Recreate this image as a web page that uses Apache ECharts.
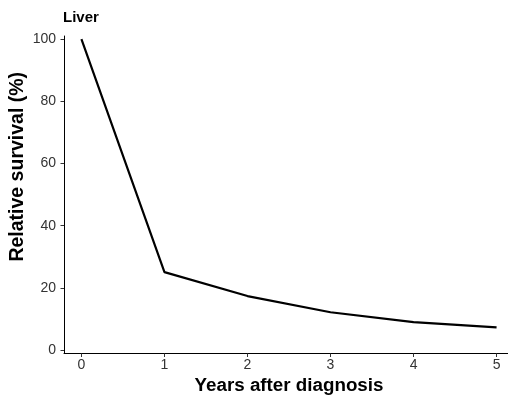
<!DOCTYPE html>
<html>
<head>
<meta charset="utf-8">
<script src="https://cdn.jsdelivr.net/npm/echarts@6/dist/echarts.min.js"></script>
<style>html,body{margin:0;padding:0;background:#fff}#c{width:508px;height:401px}</style>
</head>
<body>
<div id="c"></div>
<script>
const years = [0, 1, 2, 3, 4, 5];
const survival = [100, 25.1, 17.4, 12.2, 9.0, 7.3];
const xTicks = [0, 1, 2, 3, 4, 5];
const yTicks = [0, 20, 40, 60, 80, 100];
const titleText = 'Liver';
const xName = 'Years after diagnosis';
const yName = 'Relative survival (%)';

const chart = echarts.init(document.getElementById('c'), null, {renderer: 'canvas'});
const font = 'Liberation Sans, Arial, Helvetica, sans-serif';
chart.setOption({
  animation: false,
  title: {text: titleText, left: 63, top: 10, padding: 0, textStyle: {fontFamily: font, fontSize: 15, fontWeight: 'bold', color: '#000'}},
  grid: {left: 64, right: -6, top: 36, bottom: 401 - 353.5, containLabel: false, outerBoundsMode: 'none'},
  xAxis: {
    type: 'value', min: -0.21, max: 5.21,
    name: xName, nameLocation: 'middle', nameGap: 23, nameMoveOverlap: false,
    nameTextStyle: {fontFamily: font, fontSize: 18.8, fontWeight: 'bold', color: '#000'},
    axisLine: {show: true, onZero: false, lineStyle: {color: '#000', width: 1}},
    axisTick: {show: true, length: 3.5, customValues: xTicks, lineStyle: {color: '#333'}},
    axisLabel: {customValues: xTicks, margin: 5, fontFamily: font, fontSize: 14, color: '#333'},
    splitLine: {show: false}
  },
  yAxis: {
    type: 'value', min: -1.07, max: 101,
    name: yName, nameLocation: 'middle', nameGap: 36, nameRotate: 90, nameMoveOverlap: false,
    nameTextStyle: {fontFamily: font, fontSize: 19.5, fontWeight: 'bold', color: '#000', padding: [0, 0, 0, 56]},
    axisLine: {show: true, onZero: false, lineStyle: {color: '#000', width: 1}},
    axisTick: {show: true, length: 3.5, customValues: yTicks, lineStyle: {color: '#333'}},
    axisLabel: {customValues: yTicks, margin: 8, fontFamily: font, fontSize: 14, color: '#333'},
    splitLine: {show: false}
  },
  series: [{
    type: 'line', data: years.map((y, i) => [y, survival[i]]),
    showSymbol: false, symbol: 'none',
    lineStyle: {color: '#000', width: 2.2}
  }]
});
</script>
</body>
</html>
